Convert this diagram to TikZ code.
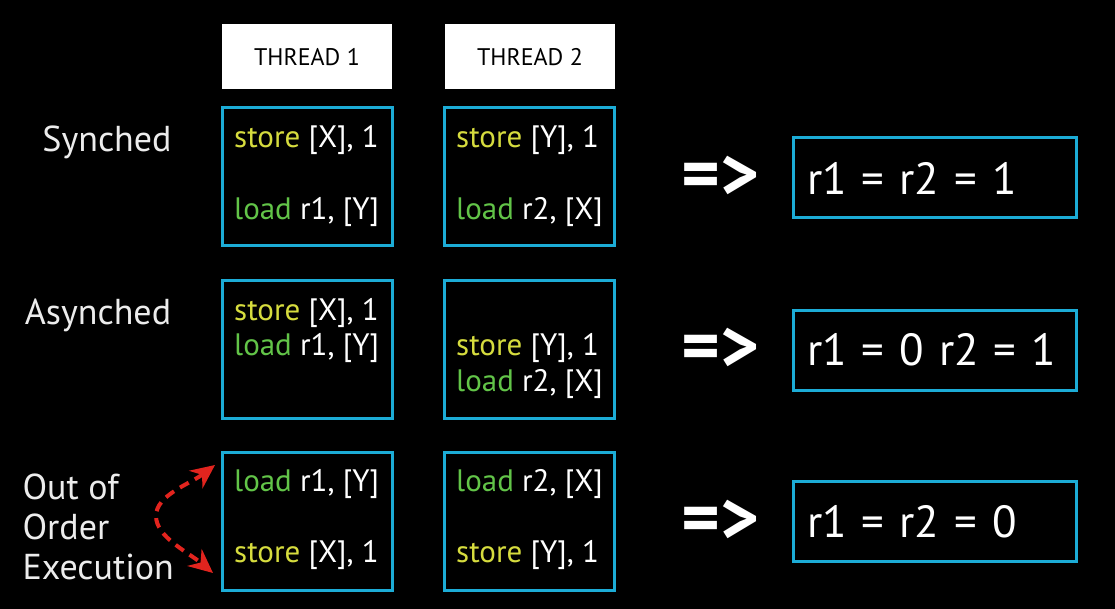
\documentclass[tikz,border=0pt]{standalone}
\usepackage{fontspec}
\setmainfont{PT Sans}
\usetikzlibrary{arrows.meta,positioning}

\definecolor{boxcyan}{RGB}{28,172,214}
\definecolor{storeyellow}{RGB}{214,220,62}
\definecolor{loadgreen}{RGB}{98,196,72}
\definecolor{arrowred}{RGB}{226,36,30}
\definecolor{labelgrey}{RGB}{236,236,236}

\newcommand{\storeop}{\textcolor{storeyellow}{store}}
\newcommand{\loadop}{\textcolor{loadgreen}{load}}

\begin{document}
\begin{tikzpicture}[x=1pt,y=-1pt,
            header/.style={fill=white,minimum width=170pt,minimum height=65pt,
                font=\fontsize{24}{28}\selectfont,text=black},
            codebox/.style={draw=boxcyan,line width=3pt,minimum width=170pt,
                minimum height=138pt},
            codeline/.style={anchor=west,inner sep=0pt,text=white,
                font=\fontsize{31}{34}\selectfont},
            rowlabel/.style={text=labelgrey,font=\fontsize{36}{40}\selectfont},
            implies/.style={text=white,font=\fontsize{74}{78}\selectfont\bfseries},
            resultbox/.style={draw=boxcyan,line width=3pt,text=white,
                text width=255pt,inner xsep=14pt,minimum height=80pt,align=left,
                font=\fontsize{45}{50}\selectfont},
            swaparrow/.style={arrowred,line width=4pt,dash pattern=on 10pt off 7pt,
                arrows={Stealth[length=24pt,width=22pt]-Stealth[length=24pt,width=22pt]}}]
            \fill[black] (0,0) rectangle (1115,609);
            \useasboundingbox (0,0) rectangle (1115,609);

            % headers
            \node[header] (th1) at (307,57) {THREAD 1};
            \node[header] (th2) at (530,57) {THREAD 2};

            % code boxes
            \node[codebox] (sync1) at (307,177) {};
            \node[codebox] (sync2) at (529,177) {};
            \node[codebox] (async1) at (307,349.5) {};
            \node[codebox] (async2) at (529,349.5) {};
            \node[codebox] (ooo1) at (307,521) {};
            \node[codebox] (ooo2) at (529,521) {};

            % instructions
            \node[codeline] (s1a) at (234,140) {\storeop{} [X], 1};
            \node[codeline] (s1b) at (234,212) {\loadop{} r1, [Y]};
            \node[codeline] (s2a) at (456,140) {\storeop{} [Y], 1};
            \node[codeline] (s2b) at (456,212) {\loadop{} r2, [X]};
            \node[codeline] (a1a) at (234,313) {\storeop{} [X], 1};
            \node[codeline] (a1b) at (234,348) {\loadop{} r1, [Y]};
            \node[codeline] (a2a) at (456,348) {\storeop{} [Y], 1};
            \node[codeline] (a2b) at (456,384) {\loadop{} r2, [X]};
            \node[codeline] (o1a) at (234,484) {\loadop{} r1, [Y]};
            \node[codeline] (o1b) at (234,555) {\storeop{} [X], 1};
            \node[codeline] (o2a) at (456,484) {\loadop{} r2, [X]};
            \node[codeline] (o2b) at (456,555) {\storeop{} [Y], 1};

            % row labels
            \node[rowlabel] (lsync) at (107,142) {Synched};
            \node[rowlabel] (lasync) at (98,315) {Asynched};
            \node[rowlabel,anchor=west,align=left] (looo) at (19,527)
                {Out of\\Order\\Execution};

            % results
            \node[resultbox] (res1) at (934.5,178) {r1 = r2 = 1};
            \node[resultbox] (res2) at (934.5,350) {r1 = 0 r2 = 1};
            \node[resultbox] (res3) at (934.5,521.5) {r1 = r2 = 0};
            \node[implies,left=28pt of res1] (imp1) {=>};
            \node[implies,left=28pt of res2] (imp2) {=>};
            \node[implies,left=28pt of res3] (imp3) {=>};

            % reordering arrow
            \coordinate (ooTop) at (215,465);
            \coordinate (ooMid) at (156,516);
            \coordinate (ooBot) at (213,573);
            \draw[swaparrow]
                (ooTop) .. controls (190,484) and (156,495) .. (ooMid)
                        .. controls (156,537) and (188,552) .. (ooBot);
      \end{tikzpicture}
\end{document}
